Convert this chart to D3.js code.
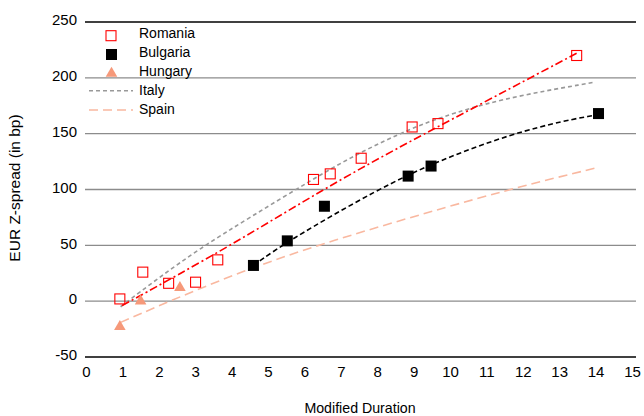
<!DOCTYPE html>
<html><head><meta charset="utf-8">
<script src="https://cdn.jsdelivr.net/npm/d3@7"></script>
<style>body{margin:0;background:#fff}svg{display:block;font-family:"Liberation Sans",Arial,sans-serif}</style>
</head><body><svg id="c" width="644" height="416"></svg>
<script>
const xTicks = [0,1,2,3,4,5,6,7,8,9,10,11,12,13,14,15];
const yTicks = [-50,0,50,100,150,200,250];
const romania = [[0.93,2],[1.56,26],[2.27,16],[3.01,17],[3.62,37],[6.25,109],[6.71,114],[7.56,128],[8.96,156],[9.67,159],[13.48,220]];
const bulgaria = [[4.6,32],[5.53,54],[6.55,85],[8.85,112],[9.48,121],[14.08,168]];
const hungary = [[0.93,-22],[1.5,1],[2.58,13]];
const romaniaTrend = [[0.99,-4],[3.95,49],[7,110],[10,162],[13.48,222]];
const bulgariaTrend = [[4.6,32],[5.5,53],[8.05,101],[9.7,126],[11.7,150],[13.2,162],[13.9,166]];
const italyTrend = [[0.95,-5],[2,21],[3.12,47],[4.5,75],[6.22,109],[7.5,133],[8.96,155],[9.7,164],[11.34,181],[13.95,196]];
const spainTrend = [[0.95,-19],[4.58,32],[8.05,67],[11.7,101],[14.1,120]];
const names = ["Romania","Bulgaria","Hungary","Italy","Spain"];

const svg = d3.select("#c");
const x = d3.scaleLinear().domain([0,15]).range([86,632]);
const y = d3.scaleLinear().domain([-50,250]).range([357,22]);
const FONT = "Liberation Sans, Arial, sans-serif";

// gridlines
svg.append("g").selectAll("line").data(yTicks).join("line")
  .attr("x1",85).attr("x2",636).attr("y1",d=>y(d)).attr("y2",d=>y(d))
  .attr("stroke",d=>(d===250||d===-50)?"#000":"#8c8c8c").attr("stroke-width",1.3);

// y axis labels
const ya = svg.append("g").attr("transform","translate(85,-2)")
  .call(d3.axisLeft(y).tickValues(yTicks).tickFormat(d=>String(d)).tickSize(0).tickPadding(8));
ya.select(".domain").remove();
ya.selectAll("text").attr("font-size",15).attr("fill","#000").attr("font-family",FONT);

// x axis labels
const xa = svg.append("g").attr("transform","translate(0,357)")
  .call(d3.axisBottom(x).tickValues(xTicks).tickFormat(d=>String(d)).tickSize(0).tickPadding(9));
xa.select(".domain").remove();
xa.selectAll("text").attr("font-size",15).attr("fill","#000").attr("font-family",FONT);

svg.append("text").attr("transform","translate(20,188) rotate(-90)").attr("text-anchor","middle")
  .attr("font-size",15.5).text("EUR Z-spread (in bp)");
svg.append("text").attr("x",360).attr("y",413).attr("text-anchor","middle")
  .attr("font-size",14.2).text("Modified Duration");

const line = d3.line().x(d=>x(d[0])).y(d=>y(d[1])).curve(d3.curveBasis);
const trends = [
  {d:italyTrend, c:"#999999", dash:"4,3", w:1.6},
  {d:spainTrend, c:"#f9b8a0", dash:"9,5", w:1.6},
  {d:bulgariaTrend, c:"#000000", dash:"5,3", w:1.6},
  {d:romaniaTrend, c:"#ff0000", dash:"8,3,2,3", w:1.6}
];
trends.forEach(t=>svg.append("path").attr("d",line(t.d)).attr("fill","none")
  .attr("stroke",t.c).attr("stroke-width",t.w).attr("stroke-dasharray",t.dash));

// markers
svg.append("g").selectAll("rect").data(romania).join("rect")
  .attr("x",d=>x(d[0])-5).attr("y",d=>y(d[1])-5).attr("width",10).attr("height",10)
  .attr("fill","none").attr("stroke","#ff0000").attr("stroke-width",1.1);
svg.append("g").selectAll("rect").data(bulgaria).join("rect")
  .attr("x",d=>x(d[0])-5.5).attr("y",d=>y(d[1])-5.5).attr("width",11).attr("height",11)
  .attr("fill","#000");
const tri = d3.symbol().type(d3.symbolTriangle).size(58);
svg.append("g").selectAll("path").data(hungary).join("path")
  .attr("transform",d=>`translate(${x(d[0])},${y(d[1])+1})`).attr("d",tri).attr("fill","#f6997a");

// legend
const lg = svg.append("g");
const rowY = [33,52,71,90,108.5];
lg.append("rect").attr("x",106).attr("y",30.7).attr("width",10).attr("height",10).attr("fill","none").attr("stroke","#ff0000").attr("stroke-width",1.1);
lg.append("rect").attr("x",106).attr("y",49).attr("width",11).attr("height",11).attr("fill","#000");
lg.append("path").attr("transform",`translate(111.5,73.5)`).attr("d",tri).attr("fill","#f6997a");
lg.append("line").attr("x1",89).attr("x2",133).attr("y1",90.7).attr("y2",90.7).attr("stroke","#999").attr("stroke-width",1.6).attr("stroke-dasharray","4,3");
lg.append("line").attr("x1",89).attr("x2",133).attr("y1",110).attr("y2",110).attr("stroke","#f9b8a0").attr("stroke-width",1.6).attr("stroke-dasharray","9,5");
lg.selectAll("text").data(names).join("text").attr("x",139).attr("y",(d,i)=>rowY[i]+5)
  .attr("font-size",14).text(d=>d);
</script></body></html>
